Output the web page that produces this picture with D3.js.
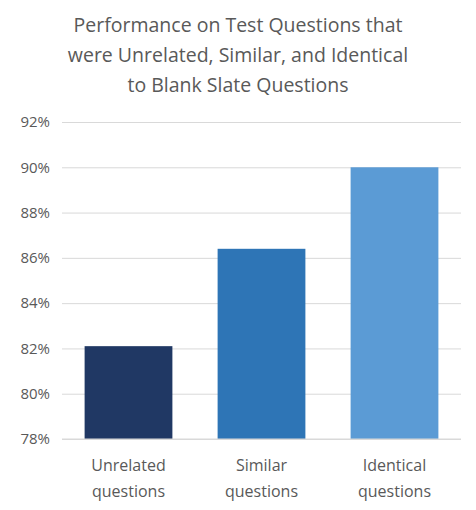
<!DOCTYPE html>
<html><head><meta charset="utf-8">
<script src="https://cdn.jsdelivr.net/npm/d3@7"></script>
<style>body{margin:0;background:#fff}</style></head>
<body><svg id="c" width="476" height="510"></svg>
<script>
const categories = [["Unrelated","questions"],["Similar","questions"],["Identical","questions"]];
const values = [82.1, 86.4, 90.0];
const colors = ["#203864","#2E75B6","#5B9BD5"];
const yTicks = [78,80,82,84,86,88,90,92];
const titleLines = ["Performance on Test Questions that","were Unrelated, Similar, and Identical","to Blank Slate Questions"];

const svg = d3.select("#c");
const font = "'Open Sans', sans-serif";
const x = d3.scaleBand().domain(d3.range(values.length)).range([62,461]).paddingInner(0.34).paddingOuter(0.17);
const y = d3.scaleLinear().domain([78,92]).range([439,122]);

svg.selectAll("text.t").data(titleLines).join("text")
  .attr("x",238).attr("y",(d,i)=>32+i*30).attr("text-anchor","middle")
  .attr("font-family",font).attr("font-size",19.5).attr("fill","#595959").text(d=>d);

const yAxis = d3.axisLeft(y).tickValues(yTicks).tickFormat(d=>d+"%").tickSize(-(461-62)).tickPadding(12);
const g = svg.append("g").attr("transform","translate(62,0)").call(yAxis);
g.select(".domain").remove();
g.selectAll("line").attr("stroke","#d9d9d9");
g.selectAll("text").attr("font-family",font).attr("font-size",15).attr("fill","#595959");

svg.selectAll("rect.b").data(values).join("rect")
  .attr("x",(d,i)=>x(i)).attr("width",x.bandwidth())
  .attr("y",d=>y(d)).attr("height",d=>y(78)-y(d)).attr("fill",(d,i)=>colors[i]);

svg.append("line").attr("x1",62).attr("x2",461).attr("y1",y(78)).attr("y2",y(78)).attr("stroke","#d9d9d9");

categories.forEach((c,i)=>{
  c.forEach((t,j)=>svg.append("text").attr("x",x(i)+x.bandwidth()/2).attr("y",471+j*26)
    .attr("text-anchor","middle").attr("font-family",font).attr("font-size",16).attr("fill","#595959").text(t));
});
</script></body></html>
